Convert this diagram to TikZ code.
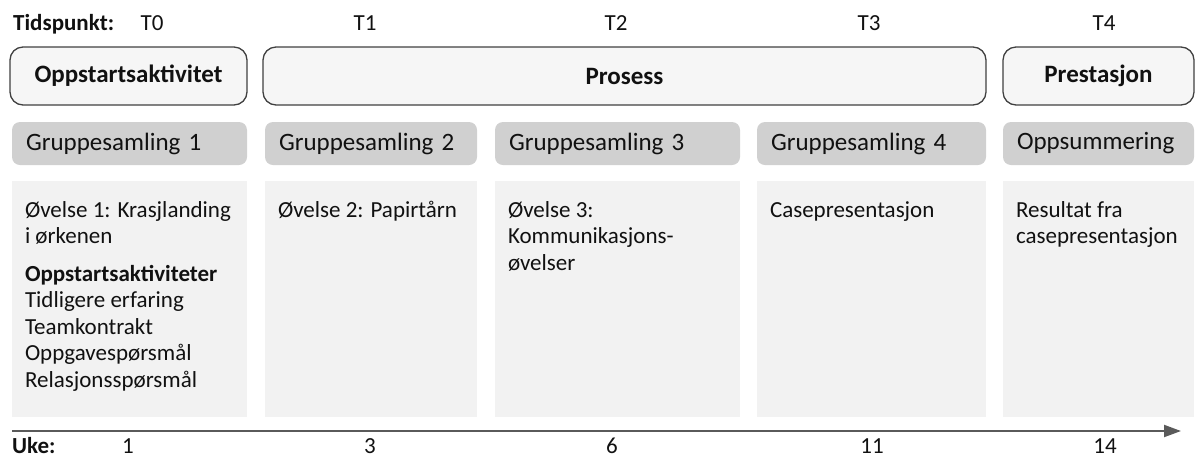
\documentclass[tikz,border=0pt]{standalone}
\usepackage{fontspec}
\setmainfont{Carlito}
\usetikzlibrary{arrows.meta,calc}
\definecolor{txt}{HTML}{111111}
\definecolor{boxline}{HTML}{404040}
\definecolor{boxfill}{HTML}{F6F6F6}
\definecolor{hdrfill}{HTML}{D0D0D0}
\definecolor{bodyfill}{HTML}{F2F2F2}
\definecolor{axiscol}{HTML}{5A5A5A}
\newcommand\topfix{\rule{0pt}{17pt}}
\begin{document}
\begin{tikzpicture}[x=1pt,y=-1pt,
  phase/.style={draw=boxline, line width=1.3pt, fill=boxfill, rounded corners=13pt,
    minimum height=58pt, inner sep=0pt, font=\fontsize{25}{30}\selectfont\bfseries, text=txt},
  hdr/.style={fill=hdrfill, rounded corners=8pt, minimum height=43pt, inner xsep=14pt,
    inner ysep=0pt, align=left, font=\fontsize{25}{30}\selectfont, text=txt},
  body/.style={fill=bodyfill, inner sep=0pt, minimum height=236pt},
  bodytext/.style={anchor=north west, inner sep=0pt, align=left,
    font=\fontsize{23}{26.5}\selectfont, text=txt},
  lbl/.style={font=\fontsize{23}{27}\selectfont, text=txt, inner sep=0pt, anchor=base},
  lblb/.style={font=\fontsize{23}{27}\selectfont\bfseries, text=txt, inner sep=0pt, anchor=base west},
  axisline/.style={draw=axiscol, line width=2pt, -{Triangle[length=17pt,width=12pt]}}]
\useasboundingbox (0,0) rectangle (1204,459);

% time labels
\node[lblb] (tid) at (13,30) {Tidspunkt:};
\node[lbl] (T0) at (152,30) {T0};
\node[lbl] (T1) at (365,30) {T1};
\node[lbl] (T2) at (616,30) {T2};
\node[lbl] (T3) at (869,30) {T3};
\node[lbl] (T4) at (1104,30) {T4};

% phases
\node[phase, minimum width=237pt] (ph0) at (128.5,76) {Oppstartsaktivitet};
\node[phase, minimum width=723pt] (ph1) at (624.5,76) {Prosess};
\node[phase, minimum width=191pt] (ph2) at (1098.5,76) {Prestasjon};

% headers
\node[hdr, minimum width=235pt, text width=207pt] (h1) at (129.5,143.5) {Gruppesamling 1};
\node[hdr, minimum width=212pt, text width=184pt] (h2) at (371,143.5) {Gruppesamling 2};
\node[hdr, minimum width=245pt, text width=217pt] (h3) at (617.5,143.5) {Gruppesamling 3};
\node[hdr, minimum width=229pt, text width=201pt] (h4) at (871.5,143.5) {Gruppesamling 4};
\node[hdr, minimum width=191pt, text width=163pt] (h5) at (1098.5,143.5) {Oppsummering};

% bodies
\node[body, minimum width=235pt] (b1) at (129.5,299) {};
\node[body, minimum width=212pt] (b2) at (371,299) {};
\node[body, minimum width=245pt] (b3) at (617.5,299) {};
\node[body, minimum width=229pt] (b4) at (871.5,299) {};
\node[body, minimum width=191pt] (b5) at (1098.5,299) {};

\node[bodytext] (x1) at ($(b1.north west)+(13,19)$) {\topfix Øvelse 1: Krasjlanding\\ i ørkenen\\[11pt]
  \textbf{Oppstartsaktiviteter}\\ Tidligere erfaring\\ Teamkontrakt\\ Oppgavespørsmål\\ Relasjonsspørsmål};
\node[bodytext] (x2) at ($(b2.north west)+(13,19)$) {\topfix Øvelse 2: Papirtårn};
\node[bodytext] (x3) at ($(b3.north west)+(13,19)$) {\topfix Øvelse 3:\\ Kommunikasjons-\\ øvelser};
\node[bodytext] (x4) at ($(b4.north west)+(13,19)$) {\topfix Casepresentasjon};
\node[bodytext] (x5) at ($(b5.north west)+(13,19)$) {\topfix Resultat fra\\ casepresentasjon};

% time axis
\coordinate (ax0) at (12,431);
\coordinate (ax1) at (1181,431);
\draw[axisline] (ax0) -- (ax1);

\node[lblb] (uke) at (12,453) {Uke:};
\node[lbl] (u1) at (128,453) {1};
\node[lbl] (u3) at (370,453) {3};
\node[lbl] (u6) at (612,453) {6};
\node[lbl] (u11) at (872,453) {11};
\node[lbl] (u14) at (1105,453) {14};
\end{tikzpicture}
\end{document}
